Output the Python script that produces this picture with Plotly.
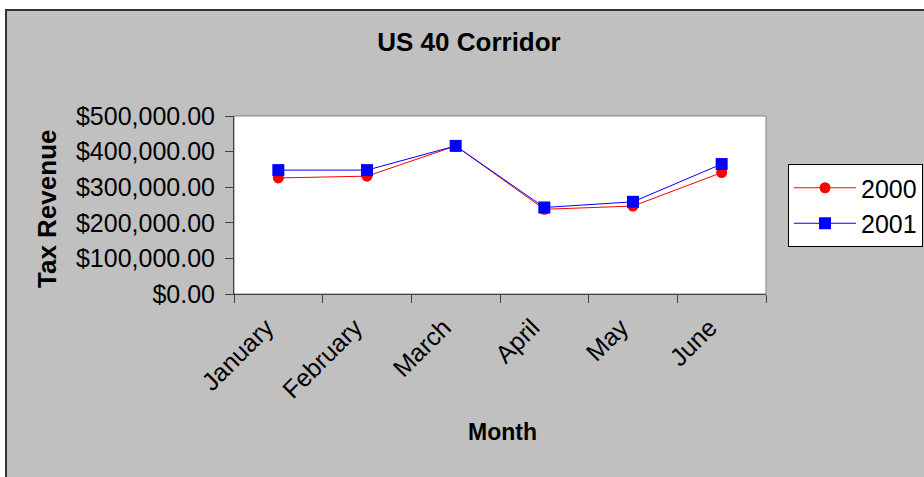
import plotly.graph_objects as go

months = ["January", "February", "March", "April", "May", "June"]
rev_2000 = [326000, 331000, 416000, 238000, 247000, 341000]
rev_2001 = [348000, 348000, 416000, 243000, 259000, 365000]
series_names = ["2000", "2001"]
y_ticks = [0, 100000, 200000, 300000, 400000, 500000]

W, H = 924, 477
# plot area in page pixels
L, R, T, B = 234, 766, 116, 294
PW, PH = R - L, B - T


def xp(px):
    return (px - L) / PW


def yp(py):
    return (B - py) / PH


FONT = "Liberation Sans, Arial, sans-serif"

fig = go.Figure()
fig.add_trace(go.Scatter(
    x=months, y=rev_2000, name=series_names[0], mode="lines+markers",
    line=dict(color="#FF0000", width=1),
    marker=dict(symbol="circle", size=11, color="#FF0000"),
))
fig.add_trace(go.Scatter(
    x=months, y=rev_2001, name=series_names[1], mode="lines+markers",
    line=dict(color="#0000FF", width=1),
    marker=dict(symbol="square", size=12, color="#0000FF"),
))

shapes = [
    # white page area outside the chart border (top and left)
    dict(type="rect", xref="paper", yref="paper", x0=xp(-2), x1=xp(930), y0=yp(9), y1=yp(-2),
         fillcolor="white", line=dict(width=0), layer="above"),
    dict(type="rect", xref="paper", yref="paper", x0=xp(-2), x1=xp(5), y0=yp(485), y1=yp(9),
         fillcolor="white", line=dict(width=0), layer="above"),
    # chart border
    dict(type="line", xref="paper", yref="paper", x0=xp(5), x1=xp(930), y0=yp(10), y1=yp(10),
         line=dict(color="#333333", width=2), layer="above"),
    dict(type="line", xref="paper", yref="paper", x0=xp(6), x1=xp(6), y0=yp(485), y1=yp(9),
         line=dict(color="#333333", width=2), layer="above"),
    # plot area border
    dict(type="rect", xref="paper", yref="paper", x0=0, x1=1, y0=0, y1=1,
         line=dict(color="#808080", width=1), layer="below"),
]

annotations = [
    dict(text="Tax Revenue", xref="paper", yref="paper", x=xp(47), y=yp(209),
         textangle=-90, showarrow=False, xanchor="center", yanchor="middle",
         font=dict(family=FONT, size=26, color="black", weight="bold")),
    dict(text="Month", xref="paper", yref="paper", x=xp(502), y=yp(432),
         showarrow=False, xanchor="center", yanchor="middle",
         font=dict(family=FONT, size=23, color="black", weight="bold")),
]

fig.update_layout(
    width=W, height=H,
    margin=dict(l=L, r=W - R, t=T, b=H - B, pad=0, autoexpand=False),
    paper_bgcolor="#C0C0C0",
    plot_bgcolor="white",
    font=dict(family=FONT, size=25, color="black"),
    title=dict(text="US 40 Corridor", x=469 / W, y=1 - 42 / H,
               xanchor="center", yanchor="middle",
               font=dict(family=FONT, size=26, color="black", weight="bold")),
    legend=dict(xref="container", yref="container",
                x=788 / W, y=1 - 164 / H, xanchor="left", yanchor="top",
                bgcolor="white", bordercolor="black", borderwidth=1, itemwidth=62,
                font=dict(family=FONT, size=25, color="black")),
    shapes=shapes,
    annotations=annotations,
    xaxis=dict(type="category", range=[-0.5, 5.5], tickson="boundaries", ticks="outside",
               ticklen=8, tickcolor="#404040", showline=True, linecolor="#404040", linewidth=1,
               showgrid=False, zeroline=False, tickangle=-45,
               ticklabelshift=-12, ticklabelstandoff=8,
               tickfont=dict(family=FONT, size=25, color="black")),
    yaxis=dict(range=[0, 500000], tickvals=y_ticks, tickformat="$,.2f", ticks="outside",
               ticklen=8, tickcolor="#404040", showline=True, linecolor="#404040", linewidth=1,
               showgrid=False, zeroline=False, ticklabelstandoff=5,
               tickfont=dict(family=FONT, size=25, color="black")),
)

fig.write_html(
    "out.html",
    config={"displayModeBar": False},
    post_script="document.body.style.margin='0';document.body.style.overflow='hidden';",
)
